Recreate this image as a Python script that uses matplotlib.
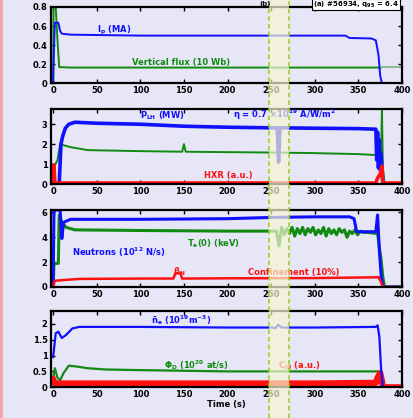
import matplotlib
matplotlib.use("Agg")
import matplotlib.pyplot as plt
import matplotlib.transforms as mtransforms
from matplotlib.patches import Rectangle
from matplotlib.lines import Line2D

# ---- panel 1: plasma current / vertical flux
ip_t = [0, 1, 2, 6, 8, 10, 20, 100, 200, 300, 335, 340, 365, 370, 373, 375, 377, 400]
ip = [0, 0.35, 0.635, 0.635, 0.55, 0.52, 0.51, 0.50, 0.50, 0.50, 0.50, 0.475, 0.47, 0.45, 0.3, 0.08, 0.0, 0.0]
vf_t = [0, 0.5, 3, 5, 7, 20, 100, 200, 300, 376]
vf = [0, 0.8, 0.8, 0.45, 0.17, 0.165, 0.165, 0.165, 0.165, 0.165]
vf_after_t = [376, 400]
vf_after = [0.17, 0.17]

# ---- panel 2: LH power / loop voltage / HXR
p_t = [0, 7, 8, 9, 11, 14, 18, 25, 50, 100, 150, 200, 250, 257, 258.5, 260, 300, 350, 370, 371, 372, 373, 374, 375, 376, 378, 400]
p = [0, 0, 1.0, 2.0, 2.4, 2.8, 3.0, 3.1, 3.05, 3.0, 2.9, 2.85, 2.82, 2.82, 1.1, 2.82, 2.8, 2.78, 2.75, 1.2, 2.6, 0.8, 2.2, 0.7, 1.5, 0, 0]
v_t = [0, 1, 5, 8, 12, 20, 40, 100, 148, 150, 152, 200, 250, 300, 350, 372, 376, 377, 378, 380, 400]
v = [0, 0.85, 1.2, 2.0, 1.95, 1.85, 1.7, 1.65, 1.62, 2.0, 1.62, 1.6, 1.58, 1.55, 1.5, 1.45, 1.5, 3.75, 0.9, 0, 0]
hxr_t = [-1, 0, 1, 2, 100, 200, 300, 370, 372, 375, 377, 378, 400]
hxr = [0.05, 0.95, 0.95, 0.05, 0.05, 0.05, 0.05, 0.05, 0.3, 0.5, 0.9, 0.05, 0.05]

# ---- panel 3: neutrons / Te(0) / beta_N
nn_t = [0, 1, 3, 8, 10, 12, 15, 20, 100, 200, 250, 300, 340, 345, 348, 370, 372, 373, 374, 376, 378, 400]
nn = [0, 6.2, 6.2, 6.2, 3.9, 5.2, 5.3, 5.45, 5.45, 5.5, 5.6, 5.65, 5.65, 5.5, 4.45, 4.45, 5.8, 4.4, 3.0, 1.0, 0, 0]
te_t = [0, 1, 6, 7, 10, 15, 25, 100, 200, 250, 256, 259, 262, 265, 268, 271, 274, 277, 280, 283, 286,
        289, 292, 295, 298, 301, 304, 307, 310, 313, 316, 319, 322, 325, 328, 331, 334, 337, 340,
        343, 346, 349, 352, 355, 360, 372, 374, 376, 378, 380, 400]
te = [0, 1.9, 1.9, 5.8, 5.2, 4.8, 4.6, 4.55, 4.5, 4.5, 4.5, 3.3, 4.8, 4.2, 4.7, 4.3, 4.8, 4.1, 4.7, 4.3, 4.8,
      4.2, 4.7, 4.4, 4.8, 4.2, 4.6, 4.3, 4.8, 4.1, 4.7, 4.3, 4.6, 4.2, 4.7, 4.4, 4.6, 4.0, 4.5,
      4.3, 4.6, 4.2, 4.5, 4.4, 4.4, 4.3, 3.2, 2.2, 0.8, 0, 0]
bn_t = [0, 2, 10, 30, 100, 138, 140, 146, 148, 200, 300, 370, 373, 376, 378, 400]
bn = [0, 0.5, 0.55, 0.65, 0.68, 0.68, 1.1, 1.1, 0.68, 0.7, 0.72, 0.78, 0.8, 0.4, 0, 0]

# ---- panel 4: density / D flux / CIII
ne_t = [0, 3, 6, 10, 15, 22, 30, 100, 200, 250, 255, 258, 262, 300, 370, 372, 374, 376, 378, 400]
ne = [0.95, 1.7, 1.75, 1.55, 1.65, 1.85, 1.9, 1.9, 1.88, 1.88, 1.86, 1.97, 1.88, 1.88, 1.9, 1.95, 1.6, 0.6, 0, 0]
phi_t = [0, 2, 5, 8, 12, 18, 25, 40, 60, 100, 150, 200, 300, 372, 375, 377, 400]
phi = [0.3, 0.6, 0.3, 0.22, 0.45, 0.68, 0.66, 0.6, 0.56, 0.54, 0.52, 0.5, 0.5, 0.5, 0.3, 0, 0]
c3_t = [0, 2, 100, 200, 300, 370, 372, 375, 377, 378, 400]
c3 = [0.25, 0.12, 0.12, 0.12, 0.12, 0.14, 0.3, 0.45, 0.2, 0, 0]

band = [248, 271]
xticks = [0, 50, 100, 150, 200, 250, 300, 350, 400]

BLUE = '#1010ff'
GREEN = '#108a10'
RED = '#ff1010'
BG = '#e6e6f7'

plt.rcParams['font.family'] = ['DejaVu Sans']
plt.rcParams['mathtext.default'] = 'regular'

fig = plt.figure(figsize=(4.13, 4.18), dpi=100, facecolor=BG)

W, H = 413.0, 418.0
left, right = 50.5 / W, 402 / W
boxes = [(7, 83.3), (109.3, 184), (210, 287), (311, 387.3)]
axes = []
for top, bot in boxes:
    ax = fig.add_axes([left, 1 - bot / H, right - left, (bot - top) / H])
    ax.set_facecolor('none')
    ax.set_xlim(-3, 400)
    ax.set_xticks(xticks)
    ax.tick_params(direction='in', top=True, right=True, length=3, width=1,
                   labelsize=6, pad=2)
    for lab in ax.get_xticklabels() + ax.get_yticklabels():
        lab.set_fontweight('bold')
    for s in ax.spines.values():
        s.set_linewidth(1.6)
    axes.append(ax)

ax1, ax2, ax3, ax4 = axes

# panel 1
ax1.plot(vf_t, vf, color=GREEN, lw=1.4)
ax1.plot(vf_after_t, vf_after, color='#8fb88f', lw=1.4)
ax1.plot(ip_t, ip, color=BLUE, lw=1.4)
ax1.set_ylim(0, 0.8)
ax1.set_yticks([0, 0.2, 0.4, 0.6, 0.8])
ax1.set_yticklabels(['0', '0.2', '0.4', '0.6', '0.8'], fontweight='bold')
ax1.text(50, 0.53, 'I$_p$ (MA)', color=BLUE, fontsize=6, fontweight='bold')
ax1.text(91, 0.19, 'Vertical flux (10 Wb)', color=GREEN, fontsize=6, fontweight='bold')

# panel 2
ax2.plot(v_t, v, color=GREEN, lw=1.4)
ax2.plot(p_t, p, color=BLUE, lw=2.6)
ax2.plot(hxr_t, hxr, color=RED, lw=2.6)
ax2.set_ylim(0, 3.75)
ax2.set_yticks([0, 1, 2, 3])
ax2.set_yticklabels(['0', '1', '2', '3'], fontweight='bold')
ax2.text(100, 3.3, 'P$_{LH}$ (MW)', color=BLUE, fontsize=6, fontweight='bold')
ax2.text(206, 3.3, '$\\eta$ = 0.7 $\\times$10$^{19}$ A/W/m$^2$', color=BLUE, fontsize=6, fontweight='bold')
ax2.text(173, 0.3, 'HXR (a.u.)', color=RED, fontsize=6, fontweight='bold')

# panel 3
ax3.plot(te_t, te, color=GREEN, lw=2.2)
ax3.plot(nn_t, nn, color=BLUE, lw=2.2)
ax3.plot(bn_t, bn, color=RED, lw=1.8)
ax3.set_ylim(0, 6.2)
ax3.set_yticks([0, 2, 4, 6])
ax3.set_yticklabels(['0', '2', '4', '6'], fontweight='bold')
ax3.text(22, 2.5, 'Neutrons (10$^{12}$ N/s)', color=BLUE, fontsize=6, fontweight='bold')
ax3.text(154, 3.3, 'T$_e$(0) (keV)', color=GREEN, fontsize=6, fontweight='bold')
ax3.text(137, 1.05, '$\\beta_N$', color=RED, fontsize=6, fontweight='bold')
ax3.text(224, 0.95, 'Confinement (10%)', color=RED, fontsize=6, fontweight='bold')

# panel 4
ax4.plot(phi_t, phi, color=GREEN, lw=1.6)
ax4.plot(c3_t, c3, color=RED, lw=4.5)
ax4.plot(ne_t, ne, color=BLUE, lw=1.6)
ax4.set_ylim(0, 2.4)
ax4.set_yticks([0, 0.5, 1, 1.5, 2])
ax4.set_yticklabels(['0', '0.5', '1', '1.5', '2'], fontweight='bold')
ax4.text(112, 2.0, '$\\bar{n}_e$ (10$^{19}$m$^{-3}$)', color=BLUE, fontsize=6, fontweight='bold')
ax4.text(127, 0.6, '$\\Phi_D$ (10$^{20}$ at/s)', color=GREEN, fontsize=6, fontweight='bold')
ax4.text(258, 0.6, 'C$_{III}$ (a.u.)', color=RED, fontsize=6, fontweight='bold')
ax4.set_xlabel('Time (s)', fontsize=6, fontweight='bold', labelpad=1)

# highlighted time window across whole figure
tr = mtransforms.blended_transform_factory(ax4.transData, fig.transFigure)
fig.add_artist(Rectangle((band[0], 0), band[1] - band[0], 1, transform=tr,
                         facecolor='#f6f6d2', alpha=0.7, edgecolor='none', zorder=5))
for xb in band:
    fig.add_artist(Line2D([xb, xb], [0, 1], transform=tr, color='#9acd1a',
                          lw=1.1, ls=(0, (3, 2)), zorder=6))

# left border strip
fig.add_artist(Rectangle((0, 0), 3 / W, 1, transform=fig.transFigure,
                         facecolor='#f0a8a8', edgecolor='none', zorder=6))

# header bits at the top edge
fig.text(265 / W, 1 - 4 / H, '(b)', fontsize=5, fontweight='bold', ha='center', va='center',
         zorder=7)
fig.text(356 / W, 1 - 4.5 / H, '(a) #56934, q$_{95}$ = 6.4', fontsize=5, fontweight='bold',
         ha='center', va='center', zorder=7,
         bbox=dict(boxstyle='square,pad=0.1', facecolor='white', edgecolor='black', lw=0.8))

fig.savefig('out.png', dpi=100, facecolor=BG)
